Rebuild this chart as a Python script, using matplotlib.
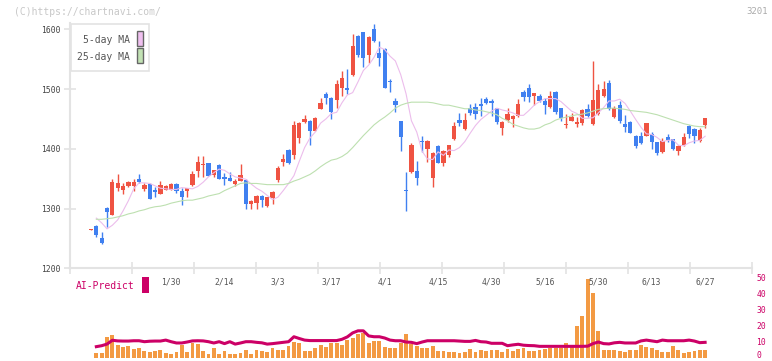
import matplotlib.pyplot as plt
import numpy as np
from matplotlib.patches import Rectangle
from matplotlib.transforms import blended_transform_factory

plt.rcParams['font.family'] = ['DejaVu Sans Mono', 'DejaVu Sans']

# daily candles (index 0 = first trading day shown)
opens = [1264, 1271, 1251, 1301, 1290, 1335, 1331, 1338, 1338, 1350,
         1333, 1341, 1331, 1325, 1331, 1331, 1341, 1329, 1329, 1340,
         1362, 1373, 1376, 1356, 1373, 1353, 1351, 1341, 1346, 1348,
         1308, 1310, 1321, 1304, 1318, 1348, 1378, 1398, 1390, 1418,
         1445, 1447, 1430, 1467, 1492, 1485, 1481, 1502, 1501, 1523,
         1589, 1595, 1557, 1600, 1560, 1567, 1514, 1480, 1446, 1331,
         1361, 1363, 1413, 1400, 1351, 1405, 1376, 1390, 1416, 1448,
         1433, 1468, 1470, 1475, 1483, 1480, 1468, 1435, 1448, 1450,
         1455, 1495, 1502, 1488, 1488, 1480, 1470, 1495, 1468, 1440,
         1447, 1441, 1443, 1467, 1441, 1458, 1488, 1510, 1453, 1473,
         1441, 1445, 1422, 1422, 1422, 1425, 1411, 1395, 1420, 1416,
         1396, 1406, 1438, 1433, 1413, 1439]
highs = [1266, 1272, 1261, 1302, 1349, 1358, 1343, 1346, 1349, 1357,
         1342, 1342, 1336, 1346, 1339, 1342, 1342, 1334, 1335, 1362,
         1388, 1388, 1377, 1365, 1374, 1360, 1361, 1350, 1375, 1349,
         1314, 1322, 1322, 1320, 1329, 1371, 1391, 1399, 1446, 1444,
         1457, 1448, 1453, 1485, 1495, 1487, 1515, 1530, 1533, 1592,
         1590, 1596, 1588, 1609, 1580, 1568, 1517, 1485, 1447, 1361,
         1410, 1380, 1422, 1415, 1394, 1406, 1398, 1407, 1445, 1460,
         1460, 1475, 1477, 1485, 1486, 1484, 1469, 1446, 1469, 1456,
         1484, 1499, 1509, 1494, 1491, 1485, 1497, 1497, 1469, 1458,
         1460, 1453, 1466, 1475, 1547, 1508, 1513, 1515, 1472, 1480,
         1456, 1446, 1423, 1428, 1443, 1428, 1412, 1418, 1425, 1417,
         1406, 1426, 1439, 1435, 1435, 1452]
lows = [1264, 1253, 1241, 1269, 1290, 1330, 1324, 1336, 1329, 1342,
        1330, 1316, 1319, 1325, 1331, 1331, 1326, 1306, 1320, 1337,
        1352, 1353, 1355, 1352, 1349, 1339, 1346, 1337, 1346, 1299,
        1300, 1300, 1303, 1302, 1308, 1344, 1371, 1374, 1383, 1409,
        1443, 1407, 1430, 1466, 1475, 1450, 1468, 1488, 1492, 1522,
        1554, 1537, 1544, 1578, 1538, 1502, 1495, 1462, 1396, 1296,
        1360, 1340, 1394, 1378, 1336, 1376, 1371, 1387, 1415, 1438,
        1432, 1457, 1450, 1455, 1475, 1455, 1441, 1423, 1445, 1437,
        1453, 1480, 1478, 1473, 1478, 1458, 1468, 1458, 1447, 1435,
        1446, 1437, 1440, 1454, 1440, 1457, 1487, 1465, 1452, 1443,
        1428, 1426, 1402, 1408, 1422, 1399, 1389, 1393, 1411, 1398,
        1390, 1405, 1418, 1410, 1412, 1435]
closes = [1265, 1255, 1243, 1295, 1345, 1343, 1338, 1344, 1345, 1344,
          1339, 1316, 1327, 1339, 1338, 1341, 1330, 1320, 1334, 1358,
          1378, 1375, 1355, 1364, 1349, 1349, 1346, 1346, 1356, 1308,
          1313, 1321, 1314, 1319, 1328, 1368, 1383, 1376, 1440, 1443,
          1450, 1430, 1452, 1477, 1485, 1462, 1508, 1518, 1499, 1572,
          1557, 1552, 1587, 1580, 1552, 1502, 1512, 1473, 1420, 1329,
          1406, 1351, 1411, 1413, 1393, 1376, 1397, 1406, 1438, 1443,
          1448, 1460, 1458, 1471, 1476, 1476, 1445, 1445, 1459, 1455,
          1475, 1487, 1487, 1493, 1480, 1473, 1488, 1462, 1452, 1442,
          1453, 1445, 1465, 1455, 1481, 1498, 1500, 1467, 1468, 1446,
          1436, 1427, 1405, 1410, 1443, 1411, 1393, 1413, 1415, 1400,
          1404, 1420, 1425, 1422, 1432, 1451]

# moving averages, volume and AI line start at index 1
ma5 = [1284, 1276, 1266, 1272, 1281, 1296, 1313, 1333, 1343, 1343,
       1342, 1338, 1334, 1333, 1332, 1332, 1335, 1334, 1333, 1337,
       1344, 1353, 1360, 1366, 1364, 1358, 1353, 1351, 1349, 1341,
       1334, 1329, 1322, 1315, 1319, 1330, 1342, 1355, 1379, 1402,
       1418, 1428, 1443, 1450, 1459, 1461, 1477, 1490, 1494, 1512,
       1531, 1540, 1553, 1570, 1566, 1555, 1547, 1524, 1492, 1447,
       1428, 1396, 1383, 1382, 1395, 1389, 1398, 1397, 1402, 1412,
       1426, 1439, 1449, 1456, 1463, 1468, 1465, 1463, 1460, 1456,
       1456, 1464, 1473, 1479, 1484, 1484, 1484, 1479, 1471, 1463,
       1459, 1451, 1451, 1452, 1460, 1469, 1480, 1480, 1483, 1476,
       1463, 1449, 1436, 1425, 1424, 1419, 1412, 1414, 1415, 1406,
       1405, 1410, 1413, 1414, 1421]
ma25 = [1282, 1282, 1283, 1284, 1286, 1288, 1291, 1293, 1296, 1298,
        1301, 1303, 1304, 1306, 1309, 1311, 1313, 1314, 1314, 1316,
        1318, 1321, 1323, 1325, 1330, 1334, 1338, 1342, 1343, 1342,
        1342, 1341, 1340, 1340, 1340, 1340, 1342, 1346, 1349, 1353,
        1357, 1363, 1370, 1376, 1381, 1383, 1387, 1393, 1402, 1412,
        1422, 1431, 1440, 1447, 1453, 1460, 1468, 1473, 1476, 1478,
        1478, 1478, 1478, 1477, 1475, 1473, 1473, 1471, 1469, 1467,
        1467, 1465, 1464, 1462, 1460, 1457, 1451, 1447, 1441, 1438,
        1435, 1433, 1433, 1435, 1440, 1443, 1448, 1451, 1453, 1455,
        1457, 1458, 1460, 1463, 1466, 1467, 1468, 1468, 1467, 1466,
        1464, 1463, 1462, 1461, 1459, 1457, 1454, 1451, 1448, 1445,
        1442, 1440, 1438, 1437, 1437]
volume = [3, 3, 13, 14.2, 7.9, 6.7, 7.3, 5.4, 6, 4.2,
          3.8, 4.4, 4.8, 2.9, 2.3, 3.6, 7.9, 3.6, 9.2, 8.5,
          4.2, 2.3, 6, 2.3, 4.2, 2.3, 2.3, 2.9, 4.8, 2.3,
          4.8, 4.2, 3.6, 6, 4.8, 4.8, 7.3, 9.8, 9.2, 4.2,
          4.2, 6, 7.9, 6.7, 9.2, 9.2, 7.9, 11, 12.3, 14.8,
          15.4, 9.2, 10.4, 10.4, 6.7, 6, 6, 9.2, 14.8, 8.5,
          7.3, 6, 6, 7.3, 4.2, 4.4, 3.6, 3.6, 2.9, 3.6,
          5.4, 3.6, 4.8, 4.2, 4.8, 4.8, 3.6, 5.4, 4.2, 5.4,
          6, 4.2, 4.2, 4.8, 5.4, 6, 6, 6, 9.2, 6.7,
          19.8, 26, 49.2, 40.4, 16.7, 4.8, 4.8, 4.8, 4.2, 3.6,
          4.8, 4.8, 7.9, 6.7, 6, 4.8, 3.6, 3.6, 7.3, 4.8,
          2.9, 3.6, 4.2, 4.8, 4.8]
ai_predict = [6.9, 7.5, 8.5, 10.9, 10.5, 10.4, 10.4, 10.6, 10.6, 10.0,
              10.3, 10.4, 10.4, 11.0, 10.0, 9.2, 9.2, 9.8, 10.5, 10.6,
              10.5, 10.0, 9.2, 10.0, 8.8, 10.0, 8.5, 9.2, 10.0, 10.0,
              9.6, 9.3, 8.5, 8.8, 9.2, 9.6, 10.0, 13.1, 12.0, 11.0,
              10.7, 10.7, 10.7, 10.7, 10.7, 10.7, 11.5, 13.0, 15.5, 16.8,
              16.8, 13.6, 13.1, 13.1, 12.3, 11.0, 10.6, 10.6, 9.8, 9.6,
              8.8, 9.8, 10.6, 10.6, 10.6, 10.6, 10.6, 10.6, 10.4, 10.2,
              10.2, 10.8, 10.0, 9.8, 9.0, 9.0, 9.0, 7.5, 8.0, 8.4,
              7.8, 7.6, 7.5, 7.1, 7.1, 7.1, 7.1, 7.1, 7.1, 7.1,
              7.1, 7.1, 7.2, 8.8, 9.8, 8.8, 8.6, 9.3, 9.6, 9.2,
              9.2, 9.2, 10.5, 11.0, 10.5, 10.0, 11.0, 10.6, 10.6, 10.6,
              10.6, 11.0, 10.4, 9.4, 9.6]

date_labels = ['1/30', '2/14', '3/3', '3/17', '4/1', '4/15', '4/30',
               '5/16', '5/30', '6/13', '6/27']
date_index = [15, 25, 35, 45, 55, 65, 75, 85, 95, 105, 115]

W, H = 772, 361
RED = '#ef5342'
BLUE = '#4080f0'
GRID = '#e3e3e3'
MAGENTA = '#cc0066'


def fx(px):
    return px / W


def fy(py):
    return 1 - py / H


fig = plt.figure(figsize=(W / 100, H / 100), dpi=100)
xmin, xmax = -3.93, 123.78

# volume / AI panel (drawn first, transparent so date labels stay visible)
av = fig.add_axes([fx(70), fy(357.7), fx(682), 80 / H])
av.patch.set_alpha(0)
av.set_xlim(xmin, xmax)
av.set_ylim(0, 50)
vpos = np.arange(1, len(volume) + 1)
av.bar(vpos, volume, width=0.72, color='#f39a43', linewidth=0)
apos = np.arange(1, len(ai_predict) + 1)
av.plot(apos, ai_predict, color=MAGENTA, lw=2.2, clip_on=False)
for s in av.spines.values():
    s.set_visible(False)
av.set_xticks([])
av.yaxis.tick_right()
av.set_yticks([0, 10, 20, 30, 40, 50])
av.tick_params(axis='y', length=0, pad=3, labelsize=5.8, labelcolor=MAGENTA)
# keep the "0" label inside the picture
av.get_yticklabels()[0].set_va('baseline')

# price panel
ax = fig.add_axes([fx(70), fy(268.3), fx(682), 245.3 / H])
ax.patch.set_alpha(0)
ax.set_xlim(xmin, xmax)
ax.set_ylim(1200, 1610.5)

x = np.arange(len(closes))
for i in x:
    o, h, l, c = opens[i], highs[i], lows[i], closes[i]
    col = RED if c >= o else BLUE
    ax.vlines(i, l, h, color=col, lw=1.0)
    ax.bar(i, max(abs(c - o), 1.8), bottom=min(o, c), width=0.8,
           color=col, linewidth=0)

pos = np.arange(1, len(ma5) + 1)
ax.plot(pos, ma5, color='#ecbdec', lw=0.8)
pos25 = np.arange(1, len(ma25) + 1)
ax.plot(pos25, ma25, color='#bde0b0', lw=0.8)

for s in ['top', 'right']:
    ax.spines[s].set_visible(False)
for s in ['left', 'bottom']:
    ax.spines[s].set_color(GRID)
    ax.spines[s].set_linewidth(1.5)

ax.set_yticks([1200, 1300, 1400, 1500, 1600])
ax.set_xticks(np.linspace(xmin, xmax, 12))
ax.set_xticklabels([])
ax.tick_params(axis='both', direction='inout', length=8, width=1.2,
               color=GRID)
ax.tick_params(axis='y', labelsize=5.8, labelcolor='#444', pad=3)

trans = blended_transform_factory(ax.transData, ax.transAxes)
for idx, lab in zip(date_index, date_labels):
    ax.text(idx, -13.7 / 245.3, lab, transform=trans, ha='center',
            va='center', fontsize=5.8, color='#555', clip_on=False)

# legend box
fig.add_artist(Rectangle((fx(70.7), fy(71.3)), fx(78), 47 / H,
                         facecolor='white', edgecolor=GRID, lw=1.2,
                         transform=fig.transFigure))
for label, col, yc, top in [('5-day MA', '#f0c0f0', 40, 31),
                            ('25-day MA', '#c2e2b4', 57, 48.3)]:
    fig.text(fx(130), fy(yc), label, ha='right', va='center',
             fontsize=7, color='#555')
    fig.add_artist(Rectangle((fx(136.5), fy(top + 15)), fx(6), 15 / H,
                             facecolor=col, edgecolor='#666', lw=1.0,
                             transform=fig.transFigure))

fig.text(fx(76), fy(286), 'AI-Predict', ha='left', va='center',
         fontsize=7, color=MAGENTA)
fig.add_artist(Rectangle((fx(142), fy(292.7)), fx(6.7), 15.5 / H,
                         facecolor=MAGENTA, edgecolor='none',
                         transform=fig.transFigure))

fig.text(fx(14), fy(12), '(C)https://chartnavi.com/', ha='left',
         va='center', fontsize=7, color='#c8c8c8')
fig.text(fx(768), fy(12), '3201', ha='right', va='center',
         fontsize=6.5, color='#aaaaaa')

fig.savefig('out.png', dpi=100)
